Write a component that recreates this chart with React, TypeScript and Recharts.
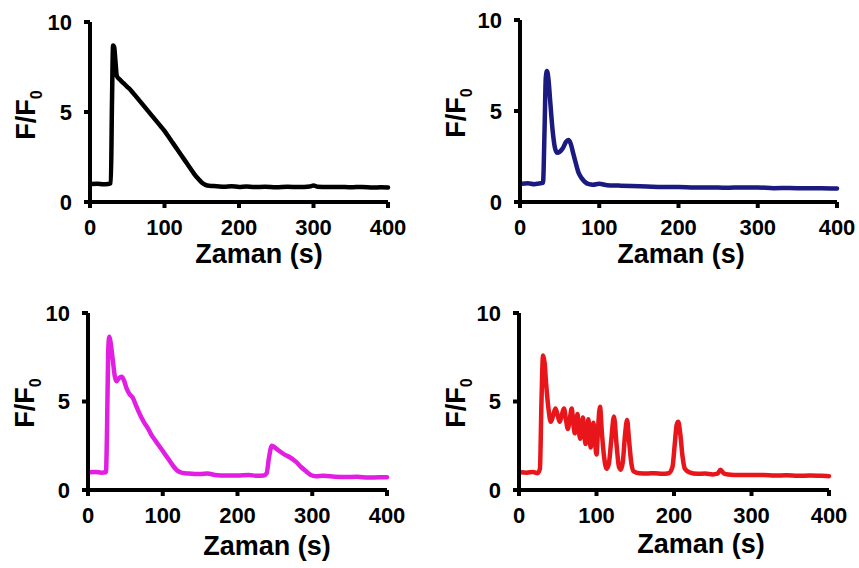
import React from 'react';
import { LineChart, Line, XAxis, YAxis } from 'recharts';

const FONT = "Arial, 'Liberation Sans', Helvetica, sans-serif";

const xTicks = [0, 100, 200, 300, 400];
const yTicks = [0, 5, 10];
const xTitleText = 'Zaman (s)';
const yTitleMain = 'F/F';
const yTitleSub = '0';

// [time (s), F/F0]
const blackTrace: [number, number][] = [
  [2, 1.0], [10, 1.02], [18, 0.98], [24, 1.0], [28, 1.05], [29.5, 5.5], [31, 8.7], [32.5, 8.6], [34, 7.9], [36, 7.0],
  [40, 6.8], [45, 6.6], [50, 6.4], [55, 6.2], [60, 5.95], [65, 5.7], [70, 5.45], [75, 5.2], [80, 4.95], [85, 4.7],
  [90, 4.45], [95, 4.2], [100, 3.95], [105, 3.65], [110, 3.35], [115, 3.05], [120, 2.75], [125, 2.45], [130, 2.15], [135, 1.85],
  [140, 1.55], [145, 1.3], [150, 1.08], [155, 0.95], [160, 0.9], [170, 0.88], [180, 0.85], [190, 0.87], [200, 0.84], [210, 0.86],
  [220, 0.83], [235, 0.85], [250, 0.82], [265, 0.85], [280, 0.83], [295, 0.86], [300, 0.92], [305, 0.85], [320, 0.83], [335, 0.84],
  [350, 0.82], [365, 0.84], [380, 0.8], [390, 0.82], [400, 0.8],
];

const navyTrace: [number, number][] = [
  [2, 1.0], [10, 1.03], [18, 0.98], [24, 1.02], [29, 1.05], [31, 4.0], [32.5, 6.8], [34, 7.2], [36, 6.7], [38, 5.6],
  [41, 4.0], [44, 3.0], [47, 2.7], [50, 2.75], [54, 2.95], [58, 3.3], [61, 3.4], [64, 3.2], [67, 2.7], [70, 2.2],
  [74, 1.6], [78, 1.3], [82, 1.1], [87, 0.98], [92, 0.95], [100, 1.0], [110, 0.92], [125, 0.9], [140, 0.88], [160, 0.85],
  [180, 0.82], [200, 0.83], [220, 0.8], [240, 0.8], [260, 0.78], [280, 0.8], [300, 0.8], [320, 0.76], [340, 0.77], [360, 0.75],
  [380, 0.76], [400, 0.74],
];

const magentaTrace: [number, number][] = [
  [2, 1.0], [10, 1.02], [18, 0.98], [24, 1.0], [25.5, 3.5], [27, 7.8], [28.5, 8.66], [30, 8.4], [33, 7.4], [36, 6.4],
  [38, 6.15], [41, 6.3], [45, 6.4], [48, 6.2], [52, 5.7], [56, 5.4], [60, 5.2], [64, 4.8], [68, 4.4], [72, 4.05],
  [76, 3.75], [80, 3.5], [85, 3.1], [90, 2.8], [95, 2.5], [100, 2.2], [105, 1.9], [110, 1.6], [115, 1.3], [120, 1.08],
  [125, 0.98], [135, 0.93], [150, 0.9], [160, 0.93], [170, 0.85], [185, 0.82], [200, 0.82], [215, 0.85], [225, 0.8], [235, 0.82],
  [239, 0.95], [242, 1.8], [246, 2.5], [250, 2.4], [256, 2.2], [263, 2.0], [270, 1.85], [278, 1.6], [285, 1.3], [292, 1.05],
  [298, 0.85], [305, 0.78], [315, 0.8], [330, 0.75], [345, 0.73], [360, 0.75], [375, 0.7], [390, 0.72], [400, 0.72],
];

const redTrace: [number, number][] = [
  [2, 1.0], [10, 0.98], [18, 1.02], [24, 0.95], [27, 1.2], [29, 5.0], [31, 7.6], [33, 7.2], [35, 6.0], [38, 4.6],
  [41, 3.85], [44, 4.2], [47, 4.6], [50, 4.2], [52.5, 3.85], [55, 4.2], [58, 4.6], [60.5, 4.0], [63, 3.45], [65.5, 4.0],
  [68, 4.6], [70, 3.8], [72, 3.2], [74, 3.8], [75.5, 4.3], [77, 3.5], [79, 2.9], [81, 3.5], [82.5, 4.1], [84, 3.3],
  [86, 2.6], [88, 3.3], [89.5, 4.0], [91, 3.1], [92.5, 2.4], [94, 3.0], [96, 3.8], [98, 2.8], [100, 2.0], [102, 3.5],
  [104.5, 4.7], [107, 3.2], [110, 1.8], [113, 1.2], [116, 1.5], [119, 2.8], [122.5, 4.15], [126, 2.5], [129, 1.3], [131.5, 1.15],
  [134, 1.6], [137, 3.2], [139.5, 3.95], [142, 2.8], [145, 1.5], [148, 1.05], [155, 0.95], [165, 0.93], [175, 0.95], [185, 0.92],
  [193, 0.95], [198, 1.3], [201, 2.6], [203.5, 3.7], [205.5, 3.85], [208, 3.2], [211, 1.9], [214, 1.2], [220, 1.0], [230, 0.92],
  [240, 0.93], [250, 0.88], [256, 0.92], [260, 1.15], [264, 0.95], [270, 0.88], [285, 0.85], [300, 0.85], [315, 0.85], [330, 0.82],
  [345, 0.83], [360, 0.8], [375, 0.82], [390, 0.8], [400, 0.78],
];

type Panel = {
  id: string;
  left: number;
  top: number;
  width: number;
  height: number;
  plot: { l: number; r: number; t: number; b: number };
  color: string;
  trace: [number, number][];
  xTitle: { cx: number; baseline: number };
  yTitle: { bx: number; cy: number };
};

const panels: Panel[] = [
  {
    id: 'a', left: 0, top: 0, width: 430, height: 284,
    plot: { l: 90, r: 388, t: 22, b: 202 },
    color: '#000000', trace: blackTrace,
    xTitle: { cx: 259, baseline: 263 }, yTitle: { bx: 35, cy: 115 },
  },
  {
    id: 'b', left: 430, top: 0, width: 429, height: 284,
    plot: { l: 90, r: 407, t: 20, b: 202 },
    color: '#1a1a80', trace: navyTrace,
    xTitle: { cx: 251, baseline: 263 }, yTitle: { bx: 35, cy: 113 },
  },
  {
    id: 'c', left: 0, top: 288, width: 430, height: 280,
    plot: { l: 88, r: 387, t: 25, b: 202 },
    color: '#e21ee2', trace: magentaTrace,
    xTitle: { cx: 267, baseline: 267 }, yTitle: { bx: 34, cy: 115 },
  },
  {
    id: 'd', left: 430, top: 288, width: 429, height: 280,
    plot: { l: 89, r: 399, t: 25, b: 202 },
    color: '#e8151a', trace: redTrace,
    xTitle: { cx: 271, baseline: 265 }, yTitle: { bx: 35, cy: 115 },
  },
];

const XH = 40;

function PanelChart({ p }: { p: Panel }) {
  const data = p.trace.map(([t, v]) => ({ t, v }));
  const margin = {
    top: p.plot.t,
    right: p.width - p.plot.r,
    bottom: p.height - p.plot.b - XH,
    left: 0,
  };
  const tickStyle = { fill: '#000', fontSize: 22, fontWeight: 'bold', fontFamily: FONT };
  const axisStroke = { stroke: '#000', strokeWidth: 4 };
  const renderXTitle = () => (
    <text
      x={p.xTitle.cx}
      y={p.xTitle.baseline}
      textAnchor="middle"
      fontSize={27}
      fontWeight="bold"
      fontFamily={FONT}
      fill="#000"
    >
      {xTitleText}
    </text>
  );
  const renderYTitle = () => (
    <text
      x={p.yTitle.bx}
      y={p.yTitle.cy}
      transform={`rotate(-90 ${p.yTitle.bx} ${p.yTitle.cy})`}
      textAnchor="middle"
      fontSize={27}
      fontWeight="bold"
      fontFamily={FONT}
      fill="#000"
    >
      {yTitleMain}
      <tspan fontSize={16} dy={7}>{yTitleSub}</tspan>
    </text>
  );
  return (
    <div style={{ position: 'absolute', left: p.left, top: p.top, width: p.width, height: p.height }}>
      <LineChart width={p.width} height={p.height} data={data} margin={margin}>
        <XAxis
          dataKey="t"
          type="number"
          domain={[0, 400]}
          ticks={xTicks}
          interval={0}
          height={XH}
          axisLine={axisStroke}
          tickLine={axisStroke}
          tickSize={6}
          tickMargin={11}
          tick={tickStyle}
          label={renderXTitle}
        />
        <YAxis
          type="number"
          domain={[0, 10]}
          ticks={yTicks}
          interval={0}
          width={p.plot.l}
          axisLine={axisStroke}
          tickLine={axisStroke}
          tickSize={6}
          tickMargin={12}
          tick={tickStyle}
          label={renderYTitle}
        />
        <Line
          dataKey="v"
          type="monotone"
          stroke={p.color}
          strokeWidth={4.5}
          dot={false}
          activeDot={false}
          isAnimationActive={false}
          strokeLinejoin="round"
          strokeLinecap="round"
        />
      </LineChart>
    </div>
  );
}

export default function App() {
  return (
    <div style={{ position: 'absolute', left: 0, top: 0, width: 859, height: 568, background: '#fff' }}>
      {panels.map((p) => (
        <PanelChart key={p.id} p={p} />
      ))}
    </div>
  );
}
